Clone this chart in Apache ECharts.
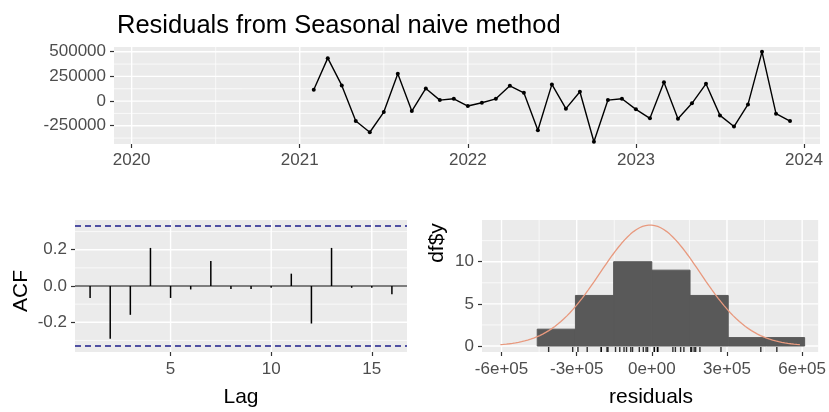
<!DOCTYPE html>
<html><head><meta charset="utf-8">
<script src="https://cdn.jsdelivr.net/npm/echarts@6/dist/echarts.min.js"></script>
<style>html,body{margin:0;padding:0;background:#fff}#c{width:829px;height:412px}</style>
</head><body><div id="c"></div>
<script>
// ---------- data ----------
const seriesStart = { year: 2020, month: 2 };   // monthly series starts Feb 2020
// residuals (first 12 are NA for the seasonal naive method)
const residuals = [
  null, null, null, null, null, null, null, null, null, null, null, null,
  115000, 435000, 159000, -202000, -316000, -111000, 276000, -101000, 128000, 10000, 23000,
  -50000, -17000, 23000, 155000, 84000, -295000, 169000, -77000, 94000, -412000, 10000, 23000,
  -84000, -175000, 192000, -179000, -23000, 175000, -145000, -258000, -34000, 499000, -128000, -202000
];
const acfLags = [1,2,3,4,5,6,7,8,9,10,11,12,13,14,15,16];
const acfValues = [-0.066,-0.291,-0.159,0.21,-0.066,-0.019,0.138,-0.017,-0.017,-0.01,0.068,-0.207,0.21,-0.01,-0.01,-0.046];
const acfLimit = 0.331;
const histBinEdges = [-457500,-305000,-152500,0,152500,305000,457500,610000];
const histCounts = [2,6,10,9,6,1,1];

const topXTicks = [2020,2021,2022,2023,2024];
const topYTicks = [-250000,0,250000,500000];
const acfXTicks = [5,10,15];
const acfYTicks = [-0.2,0,0.2];
const histXTicks = [-600000,-300000,0,300000,600000];
const histXLabels = ['-6e+05','-3e+05','0e+00','3e+05','6e+05'];
const histYTicks = [0,5,10];

// ---------- derived ----------
const FONT = "'Liberation Sans', Arial, sans-serif";
const tVals = residuals.map((_, i) => seriesStart.year + (seriesStart.month - 1 + i) / 12);
const linePts = [];
residuals.forEach((v, i) => { if (v !== null) linePts.push([tVals[i], v]); });
const resVals = residuals.filter(v => v !== null);
const mean = resVals.reduce((a, b) => a + b, 0) / resVals.length;
const sd = Math.sqrt(resVals.reduce((a, b) => a + (b - mean) * (b - mean), 0) / (resVals.length - 1));
const binWidth = histBinEdges[1] - histBinEdges[0];
const cxMin = Math.min(mean - 3 * sd, Math.min(...resVals));
const cxMax = Math.max(mean + 3 * sd, Math.max(...resVals));
const curve = [];
for (let k = 0; k < 100; k++) {
  const x = cxMin + (cxMax - cxMin) * k / 99;
  const d = Math.exp(-0.5 * ((x - mean) / sd) ** 2) / (sd * Math.sqrt(2 * Math.PI));
  curve.push([x, d * residuals.length * binWidth]);
}
const histData = histCounts.map((c, i) => [histBinEdges[i], histBinEdges[i + 1], c]);

const HIST_YMIN = -0.71;

function mids(arr) { const r = []; for (let i = 0; i < arr.length - 1; i++) r.push((arr[i] + arr[i + 1]) / 2); return r; }

// one custom series per panel that draws the ggplot-style white grid
function gridSeries(idx, xMaj, xMin, yMaj, yMin) {
  return { type: 'custom', xAxisIndex: idx, yAxisIndex: idx, z: 1, silent: true,
    data: [[xMaj[0], yMaj[0]]], encode: { x: 0, y: 1 },
    renderItem: (params, api) => {
      const cs = params.coordSys; const children = [];
      const ry = yMaj[0], rx = xMaj[0];
      xMaj.concat(xMin).forEach((v, i) => {
        const p = api.coord([v, ry]);
        children.push({ type: 'line', shape: { x1: p[0], y1: cs.y, x2: p[0], y2: cs.y + cs.height },
          style: { stroke: '#fff', lineWidth: i < xMaj.length ? 1.4 : 0.7 } });
      });
      yMaj.concat(yMin).forEach((v, i) => {
        const p = api.coord([rx, v]);
        children.push({ type: 'line', shape: { x1: cs.x, y1: p[1], x2: cs.x + cs.width, y2: p[1] },
          style: { stroke: '#fff', lineWidth: i < yMaj.length ? 1.4 : 0.7 } });
      });
      return { type: 'group', children: children };
    } };
}
function hRules(idx, vals, styles, z) {
  return { type: 'custom', xAxisIndex: idx, yAxisIndex: idx, z: z, silent: true,
    data: [[8, 0]], encode: { x: 0, y: 1 },
    renderItem: (params, api) => {
      const cs = params.coordSys;
      return { type: 'group', children: vals.map((v, i) => {
        const p = api.coord([8, v]);
        return { type: 'line', shape: { x1: cs.x, y1: p[1], x2: cs.x + cs.width, y2: p[1] }, style: styles[i] };
      }) };
    } };
}

const tickStyle = { show: true, length: 4, lineStyle: { color: '#333333', width: 1.2 } };
const labelBase = { fontSize: 17, color: '#4D4D4D', fontFamily: FONT };

function axisX(idx, min, max, ticks, fmt, margin) {
  return { type: 'value', gridIndex: idx, min: min, max: max, position: 'bottom',
    axisLine: { show: false, onZero: false },
    splitLine: { show: false },
    axisTick: Object.assign({ customValues: ticks }, tickStyle),
    axisLabel: Object.assign({ customValues: ticks, formatter: fmt, margin: margin }, labelBase) };
}
function axisY(idx, min, max, ticks, fmt) {
  return { type: 'value', gridIndex: idx, min: min, max: max, position: 'left',
    axisLine: { show: false, onZero: false },
    splitLine: { show: false },
    axisTick: Object.assign({ customValues: ticks }, tickStyle),
    axisLabel: Object.assign({ customValues: ticks, formatter: fmt, margin: 8 }, labelBase) };
}

const dashStyle = { stroke: '#1e1e8c', lineWidth: 1.3, lineDash: [6, 4] };

const chart = echarts.init(document.getElementById('c'), null, { renderer: 'canvas' });
chart.setOption({
  animation: false,
  backgroundColor: '#ffffff',
  title: { text: 'Residuals from Seasonal naive method', left: 112, top: 8,
    textStyle: { fontSize: 25.5, fontWeight: 'normal', color: '#000', fontFamily: FONT } },
  grid: [
    { left: 114, top: 47, width: 706, height: 97, show: true, backgroundColor: '#EBEBEB', borderWidth: 0 },
    { left: 75, top: 220, width: 332, height: 132, show: true, backgroundColor: '#EBEBEB', borderWidth: 0 },
    { left: 482, top: 220, width: 338, height: 132, show: true, backgroundColor: '#EBEBEB', borderWidth: 0 }
  ],
  xAxis: [
    axisX(0, 2019.895, 2024.095, topXTicks, v => String(Math.round(v)), 8),
    axisX(1, 0.25, 16.75, acfXTicks, v => String(Math.round(v)), 9),
    axisX(2, -678000, 664000, histXTicks, v => histXLabels[histXTicks.indexOf(Math.round(v))] || '', 9)
  ],
  yAxis: [
    axisY(0, -435000, 548000, topYTicks, v => String(Math.round(v))),
    axisY(1, -0.364, 0.364, acfYTicks, v => v.toFixed(1)),
    axisY(2, HIST_YMIN, 14.95, histYTicks, v => String(Math.round(v)))
  ],
  graphic: [
    { type: 'text', x: 21, y: 291, rotation: Math.PI / 2,
      style: { text: 'ACF', fontSize: 21, fontFamily: FONT, fill: '#000', align: 'center', verticalAlign: 'middle' } },
    { type: 'text', x: 241, y: 397,
      style: { text: 'Lag', fontSize: 21, fontFamily: FONT, fill: '#000', align: 'center', verticalAlign: 'middle' } },
    { type: 'text', x: 437, y: 243, rotation: Math.PI / 2,
      style: { text: 'df$y', fontSize: 21, fontFamily: FONT, fill: '#000', align: 'center', verticalAlign: 'middle' } },
    { type: 'text', x: 651, y: 397,
      style: { text: 'residuals', fontSize: 21, fontFamily: FONT, fill: '#000', align: 'center', verticalAlign: 'middle' } }
  ],
  series: [
    gridSeries(0, topXTicks, mids(topXTicks), topYTicks, [-375000].concat(mids(topYTicks))),
    gridSeries(1, acfXTicks, [], acfYTicks, [-0.3, -0.1, 0.1, 0.3]),
    gridSeries(2, histXTicks, mids(histXTicks), histYTicks, mids(histYTicks).concat([12.5])),
    { type: 'line', xAxisIndex: 0, yAxisIndex: 0, z: 3, data: linePts, symbol: 'circle', symbolSize: 4,
      showSymbol: true, showAllSymbol: true, itemStyle: { color: '#000' }, lineStyle: { color: '#000', width: 1.4 } },
    hRules(1, [0, acfLimit, -acfLimit], [{ stroke: '#000', lineWidth: 1.2 }, dashStyle, dashStyle], 3),
    { type: 'custom', xAxisIndex: 1, yAxisIndex: 1, z: 4,
      data: acfLags.map((l, i) => [l, acfValues[i]]),
      renderItem: (params, api) => {
        const a = api.coord([api.value(0), 0]); const b = api.coord([api.value(0), api.value(1)]);
        return { type: 'line', shape: { x1: a[0], y1: a[1], x2: b[0], y2: b[1] }, style: { stroke: '#000', lineWidth: 1.5 } };
      } },
    { type: 'custom', xAxisIndex: 2, yAxisIndex: 2, z: 3, data: histData, encode: { x: [0, 1], y: 2 },
      renderItem: (params, api) => {
        const p0 = api.coord([api.value(0), 0]); const p1 = api.coord([api.value(1), api.value(2)]);
        return { type: 'rect', shape: { x: p0[0], y: p1[1], width: p1[0] - p0[0], height: p0[1] - p1[1] },
          style: { fill: '#595959', stroke: '#595959', lineWidth: 1 } };
      } },
    { type: 'line', xAxisIndex: 2, yAxisIndex: 2, z: 4, data: curve, showSymbol: false, symbol: 'none',
      lineStyle: { color: '#E8997E', width: 1.3 } },
    { type: 'scatter', xAxisIndex: 2, yAxisIndex: 2, z: 4, data: resVals.map(v => [v, HIST_YMIN]),
      symbol: 'rect', symbolSize: [1.4, 5], symbolOffset: [0, -2.5], itemStyle: { color: '#000' } }
  ]
});
</script>
</body></html>
